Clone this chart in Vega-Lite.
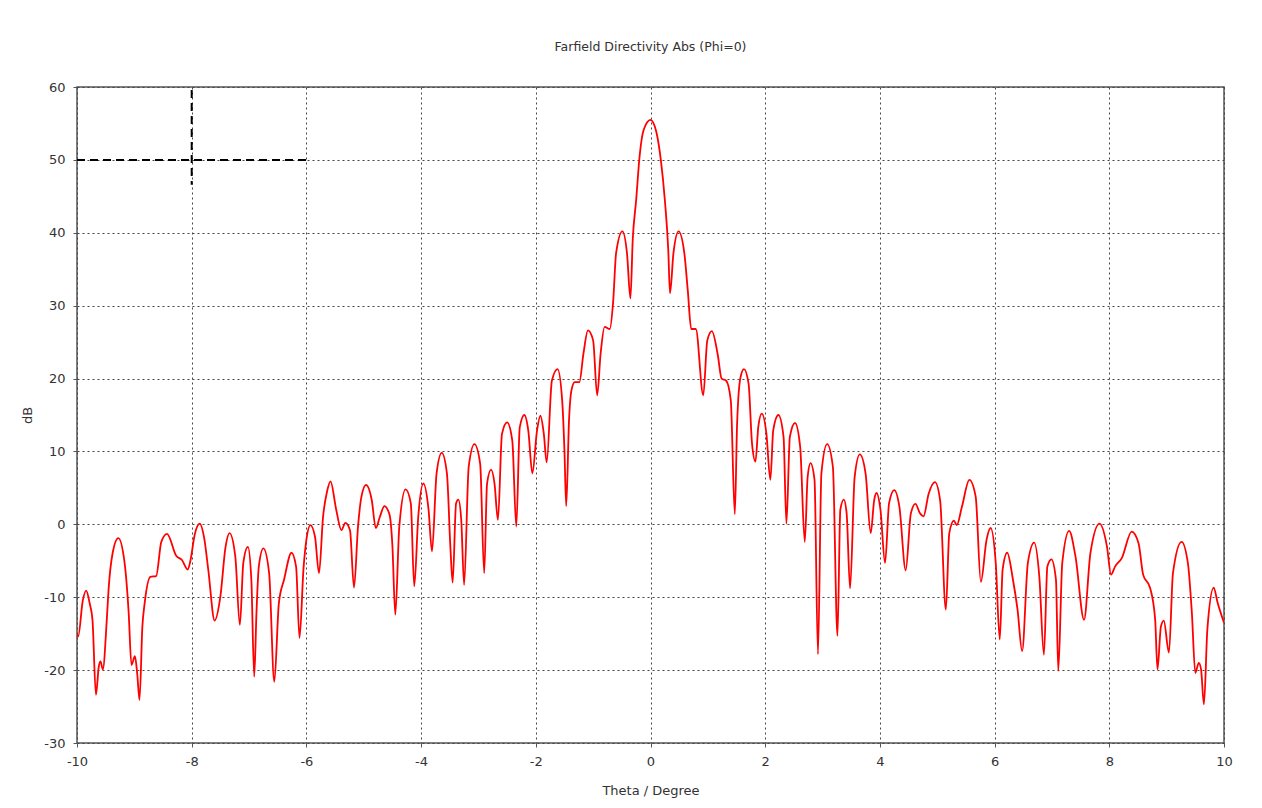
{
  "$schema": "https://vega.github.io/schema/vega-lite/v6.json",
  "width": 1147,
  "height": 656,
  "autosize": "none",
  "padding": {"left": 77, "top": 87, "right": 38, "bottom": 65},
  "background": "#ffffff",
  "title": {"text": "Farfield Directivity Abs (Phi=0)", "font": "DejaVu Sans", "fontSize": 12.5, "fontWeight": "normal", "color": "#333333", "offset": 28, "anchor": "middle"},
  "config": {
    "view": {"stroke": "#555555", "strokeWidth": 1.5},
    "axis": {
      "domain": false,
      "grid": true,
      "gridColor": "#444444",
      "gridDash": [2, 3],
      "gridWidth": 1,
      "gridOpacity": 1,
      "tickColor": "#555555",
      "tickSize": 4,
      "labelFont": "DejaVu Sans",
      "labelFontSize": 13,
      "labelColor": "#333333",
      "titleFont": "DejaVu Sans",
      "titleFontSize": 13,
      "titleFontWeight": "normal",
      "titleColor": "#333333",
      "labelExpr": "'' + datum.value"
    }
  },
  "layer": [
    {
      "data": {"values": [
        {"t": -10.00, "d": -15.0}, {"t": -9.98, "d": -15.4}, {"t": -9.90, "d": -10.5}, {"t": -9.84, "d": -9.1},
        {"t": -9.78, "d": -10.8}, {"t": -9.73, "d": -13.1}, {"t": -9.67, "d": -23.4}, {"t": -9.62, "d": -19.5},
        {"t": -9.59, "d": -18.8}, {"t": -9.55, "d": -19.9}, {"t": -9.48, "d": -13.0}, {"t": -9.45, "d": -9.0},
        {"t": -9.38, "d": -4.0}, {"t": -9.28, "d": -1.9}, {"t": -9.17, "d": -5.3}, {"t": -9.10, "d": -12.0},
        {"t": -9.05, "d": -19.3}, {"t": -8.99, "d": -18.1}, {"t": -8.95, "d": -20.5}, {"t": -8.91, "d": -24.1},
        {"t": -8.86, "d": -14.0}, {"t": -8.82, "d": -10.8}, {"t": -8.72, "d": -7.2}, {"t": -8.62, "d": -7.1},
        {"t": -8.53, "d": -2.4}, {"t": -8.43, "d": -1.3}, {"t": -8.27, "d": -4.3}, {"t": -8.17, "d": -4.9},
        {"t": -8.07, "d": -6.2}, {"t": -8.02, "d": -4.9}, {"t": -7.95, "d": -1.5}, {"t": -7.86, "d": 0.1},
        {"t": -7.78, "d": -2.0}, {"t": -7.71, "d": -6.3}, {"t": -7.60, "d": -13.2}, {"t": -7.50, "d": -9.9},
        {"t": -7.41, "d": -3.1}, {"t": -7.34, "d": -1.2}, {"t": -7.24, "d": -4.4}, {"t": -7.16, "d": -13.8},
        {"t": -7.10, "d": -5.3}, {"t": -7.02, "d": -3.1}, {"t": -6.96, "d": -7.6}, {"t": -6.91, "d": -20.9},
        {"t": -6.87, "d": -12.0}, {"t": -6.83, "d": -5.8}, {"t": -6.75, "d": -3.3}, {"t": -6.65, "d": -6.7},
        {"t": -6.56, "d": -21.6}, {"t": -6.48, "d": -10.8}, {"t": -6.39, "d": -7.6}, {"t": -6.26, "d": -3.9},
        {"t": -6.18, "d": -5.8}, {"t": -6.12, "d": -15.6}, {"t": -6.05, "d": -6.0}, {"t": -6.00, "d": -2.1},
        {"t": -5.93, "d": -0.1}, {"t": -5.85, "d": -1.7}, {"t": -5.78, "d": -6.7}, {"t": -5.71, "d": 1.0},
        {"t": -5.64, "d": 4.5}, {"t": -5.58, "d": 5.9}, {"t": -5.48, "d": 2.0}, {"t": -5.39, "d": -0.8},
        {"t": -5.32, "d": 0.2}, {"t": -5.24, "d": -0.8}, {"t": -5.17, "d": -8.7}, {"t": -5.10, "d": -0.3},
        {"t": -5.04, "d": 3.8}, {"t": -4.96, "d": 5.4}, {"t": -4.86, "d": 3.3}, {"t": -4.79, "d": -0.5},
        {"t": -4.72, "d": 1.0}, {"t": -4.64, "d": 2.5}, {"t": -4.55, "d": 1.3}, {"t": -4.50, "d": -3.0},
        {"t": -4.45, "d": -12.4}, {"t": -4.38, "d": -0.3}, {"t": -4.27, "d": 4.8}, {"t": -4.18, "d": 2.9},
        {"t": -4.12, "d": -8.5}, {"t": -4.05, "d": 1.0}, {"t": -3.96, "d": 5.6}, {"t": -3.87, "d": 2.0},
        {"t": -3.81, "d": -3.7}, {"t": -3.73, "d": 7.0}, {"t": -3.64, "d": 9.8}, {"t": -3.55, "d": 7.0},
        {"t": -3.49, "d": -3.0}, {"t": -3.45, "d": -8.0}, {"t": -3.39, "d": 2.9}, {"t": -3.35, "d": 3.4},
        {"t": -3.30, "d": 0.6}, {"t": -3.25, "d": -8.3}, {"t": -3.17, "d": 7.9}, {"t": -3.07, "d": 11.0},
        {"t": -2.97, "d": 8.3}, {"t": -2.90, "d": -6.7}, {"t": -2.85, "d": 5.6}, {"t": -2.78, "d": 7.5},
        {"t": -2.72, "d": 5.6}, {"t": -2.66, "d": 0.6}, {"t": -2.59, "d": 12.4}, {"t": -2.50, "d": 14.0},
        {"t": -2.41, "d": 11.5}, {"t": -2.34, "d": -0.3}, {"t": -2.28, "d": 13.3}, {"t": -2.20, "d": 15.0},
        {"t": -2.13, "d": 12.8}, {"t": -2.06, "d": 7.0}, {"t": -1.98, "d": 12.8}, {"t": -1.92, "d": 14.9},
        {"t": -1.86, "d": 12.4}, {"t": -1.81, "d": 8.5}, {"t": -1.72, "d": 19.7}, {"t": -1.62, "d": 21.3},
        {"t": -1.54, "d": 17.0}, {"t": -1.50, "d": 10.0}, {"t": -1.47, "d": 2.5}, {"t": -1.42, "d": 14.4},
        {"t": -1.38, "d": 18.3}, {"t": -1.32, "d": 19.5}, {"t": -1.24, "d": 19.5}, {"t": -1.17, "d": 23.4},
        {"t": -1.09, "d": 26.6}, {"t": -1.00, "d": 25.2}, {"t": -0.93, "d": 17.7}, {"t": -0.87, "d": 23.4},
        {"t": -0.80, "d": 27.1}, {"t": -0.71, "d": 26.8}, {"t": -0.65, "d": 30.7}, {"t": -0.60, "d": 37.2},
        {"t": -0.49, "d": 40.2}, {"t": -0.41, "d": 37.2}, {"t": -0.35, "d": 31.0}, {"t": -0.31, "d": 39.0},
        {"t": -0.25, "d": 44.5}, {"t": -0.19, "d": 50.5}, {"t": -0.12, "d": 54.1}, {"t": 0.00, "d": 55.5},
        {"t": 0.10, "d": 53.9}, {"t": 0.18, "d": 50.0}, {"t": 0.25, "d": 44.5}, {"t": 0.31, "d": 37.6},
        {"t": 0.34, "d": 31.7}, {"t": 0.40, "d": 37.2}, {"t": 0.49, "d": 40.2}, {"t": 0.59, "d": 37.2},
        {"t": 0.65, "d": 32.1}, {"t": 0.71, "d": 26.8}, {"t": 0.79, "d": 26.8}, {"t": 0.92, "d": 17.7},
        {"t": 0.99, "d": 25.2}, {"t": 1.07, "d": 26.5}, {"t": 1.17, "d": 23.4}, {"t": 1.24, "d": 20.0},
        {"t": 1.32, "d": 19.7}, {"t": 1.40, "d": 17.0}, {"t": 1.47, "d": 1.4}, {"t": 1.51, "d": 13.8},
        {"t": 1.57, "d": 20.2}, {"t": 1.63, "d": 21.3}, {"t": 1.71, "d": 19.3}, {"t": 1.77, "d": 11.1},
        {"t": 1.83, "d": 8.6}, {"t": 1.88, "d": 13.4}, {"t": 1.94, "d": 15.2}, {"t": 2.02, "d": 12.5},
        {"t": 2.09, "d": 6.1}, {"t": 2.14, "d": 12.9}, {"t": 2.23, "d": 15.0}, {"t": 2.32, "d": 12.0},
        {"t": 2.37, "d": 0.1}, {"t": 2.43, "d": 12.0}, {"t": 2.52, "d": 13.9}, {"t": 2.61, "d": 10.6},
        {"t": 2.69, "d": -2.4}, {"t": 2.74, "d": 6.5}, {"t": 2.79, "d": 8.4}, {"t": 2.86, "d": 6.1},
        {"t": 2.92, "d": -17.8}, {"t": 2.98, "d": 7.0}, {"t": 3.08, "d": 11.0}, {"t": 3.18, "d": 7.9},
        {"t": 3.26, "d": -15.3}, {"t": 3.31, "d": 2.0}, {"t": 3.37, "d": 3.4}, {"t": 3.42, "d": 1.5},
        {"t": 3.48, "d": -8.8}, {"t": 3.56, "d": 6.5}, {"t": 3.65, "d": 9.6}, {"t": 3.75, "d": 7.0},
        {"t": 3.84, "d": -1.2}, {"t": 3.90, "d": 3.3}, {"t": 3.94, "d": 4.3}, {"t": 4.01, "d": 2.0},
        {"t": 4.09, "d": -5.3}, {"t": 4.16, "d": 2.9}, {"t": 4.25, "d": 4.7}, {"t": 4.34, "d": 2.4},
        {"t": 4.45, "d": -6.3}, {"t": 4.54, "d": 1.5}, {"t": 4.62, "d": 2.8}, {"t": 4.70, "d": 1.5},
        {"t": 4.76, "d": 1.1}, {"t": 4.85, "d": 4.2}, {"t": 4.96, "d": 5.8}, {"t": 5.05, "d": 3.3},
        {"t": 5.15, "d": -11.7}, {"t": 5.21, "d": -1.2}, {"t": 5.29, "d": 0.5}, {"t": 5.34, "d": -0.1},
        {"t": 5.43, "d": 2.4}, {"t": 5.56, "d": 6.1}, {"t": 5.67, "d": 3.8}, {"t": 5.76, "d": -7.9},
        {"t": 5.86, "d": -2.1}, {"t": 5.93, "d": -0.5}, {"t": 6.02, "d": -5.3}, {"t": 6.09, "d": -15.8},
        {"t": 6.14, "d": -6.2}, {"t": 6.22, "d": -3.9}, {"t": 6.32, "d": -7.6}, {"t": 6.40, "d": -11.7},
        {"t": 6.48, "d": -17.4}, {"t": 6.58, "d": -5.3}, {"t": 6.69, "d": -2.5}, {"t": 6.78, "d": -7.2},
        {"t": 6.86, "d": -17.9}, {"t": 6.92, "d": -5.8}, {"t": 6.99, "d": -4.8}, {"t": 7.07, "d": -7.6},
        {"t": 7.11, "d": -20.1}, {"t": 7.18, "d": -5.3}, {"t": 7.30, "d": -0.9}, {"t": 7.41, "d": -4.4},
        {"t": 7.56, "d": -13.1}, {"t": 7.67, "d": -4.0}, {"t": 7.83, "d": 0.1}, {"t": 7.96, "d": -3.1},
        {"t": 8.03, "d": -6.9}, {"t": 8.10, "d": -5.8}, {"t": 8.22, "d": -4.6}, {"t": 8.39, "d": -1.0},
        {"t": 8.51, "d": -2.6}, {"t": 8.59, "d": -6.9}, {"t": 8.71, "d": -8.7}, {"t": 8.80, "d": -13.1},
        {"t": 8.84, "d": -19.9}, {"t": 8.90, "d": -14.0}, {"t": 8.95, "d": -13.2}, {"t": 9.04, "d": -17.6},
        {"t": 9.11, "d": -6.7}, {"t": 9.26, "d": -2.4}, {"t": 9.37, "d": -5.3}, {"t": 9.44, "d": -12.2},
        {"t": 9.50, "d": -20.4}, {"t": 9.56, "d": -19.0}, {"t": 9.60, "d": -19.9}, {"t": 9.65, "d": -24.7},
        {"t": 9.71, "d": -14.4}, {"t": 9.82, "d": -8.7}, {"t": 9.89, "d": -10.8}, {"t": 10.00, "d": -13.5}
      ]},
      "mark": {"type": "line", "color": "#ff0000", "strokeWidth": 1.8, "interpolate": "monotone", "clip": true},
      "encoding": {
        "x": {"field": "t", "type": "quantitative", "title": "Theta / Degree",
              "scale": {"domain": [-10, 10], "nice": false, "zero": false},
              "axis": {"values": [-10, -8, -6, -4, -2, 0, 2, 4, 6, 8, 10], "labelPadding": 8, "titlePadding": 16, "labelFlush": false}},
        "y": {"field": "d", "type": "quantitative", "title": "dB",
              "scale": {"domain": [-30, 60], "nice": false, "zero": false},
              "axis": {"values": [-30, -20, -10, 0, 10, 20, 30, 40, 50, 60], "labelPadding": 8, "titlePadding": 9, "labelFlush": false}}
      }
    },
    {
      "data": {"values": [
        {"x": -10, "x2": -6, "y": 50, "y2": 50},
        {"x": -8, "x2": -8, "y": 59.6, "y2": 46.6}
      ]},
      "mark": {"type": "rule", "color": "#000000", "strokeWidth": 2, "strokeDash": [8, 5]},
      "encoding": {
        "x": {"field": "x", "type": "quantitative"},
        "x2": {"field": "x2"},
        "y": {"field": "y", "type": "quantitative"},
        "y2": {"field": "y2"}
      }
    }
  ]
}
